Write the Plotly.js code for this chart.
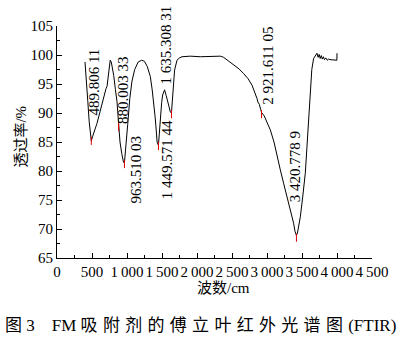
<!DOCTYPE html>
<html>
<head>
<meta charset="utf-8">
<script src="https://cdn.plot.ly/plotly-3.0.1.min.js"></script>
<style>html,body{margin:0;padding:0;background:#fff;}#chart{width:406px;height:346px;}</style>
</head>
<body>
<div id="chart"></div>
<script>
// Spectrum: wavenumber (cm^-1) and transmittance (%)
const wavenumber = [400,420,440,460,475,490,510,540,571,610,643,670,700,715,730,745,760,775,795,810,835,857,872,880,884,900,925,950,963,985,1010,1040,1071,1110,1160,1210,1250,1290,1333,1360,1381,1400,1414,1430,1449,1460,1476,1495,1509,1537,1560,1594,1619,1635,1650,1680,1714,1750,1786,1880,1904,2047,2200,2333,2380,2450,2523,2600,2666,2730,2786,2830,2857,2870,2890,2910,2922,2960,3000,3047,3100,3143,3190,3237,3290,3333,3360,3380,3400,3420,3435,3450,3476,3510,3547,3570,3594,3619,3640,3666,3690,3714,3730,3745,3760,3775,3790,3805,3820,3840,3860,3880,3900,3950,3998,4000];
const transmittance = [98.8,96,92,88.5,86,85.2,86,87,88.2,90,91.7,93,94.2,94.6,96,98,99.1,98.8,97.5,96.5,94,92,89.5,87.8,86.8,85,83,81.5,81.4,84,88,92.5,95.5,97.5,98.8,99.1,98.9,98,96.3,94,92,89.5,87.6,85,84.4,86.5,89.4,91.8,93.1,94,93,91.1,90.2,90,92.5,97.4,99.1,99.5,99.7,99.8,99.8,99.7,99.8,99.8,99.6,99,98.3,97.6,96.8,95.9,94.8,93.5,92.5,91.9,91.5,90.6,90.1,89.5,88.5,87.1,85,82.5,80.2,77.9,75.5,73.3,72,71,69.6,68.9,69.3,70.3,72.1,75.5,79.6,84,88.2,94.3,97.5,99.4,99.9,100.3,99.6,100.1,99.4,99.9,99.3,99.7,99.2,99.5,99.1,99.3,99.2,99.1,99.1,100.3];

// Marked peaks
const peakWn = [489.806, 880.003, 963.510, 1449.571, 1635.308, 2921.611, 3420.779];
const peakT = [84.5, 86.9, 80.5, 83.6, 89.1, 89.1, 67.8];
const peakLabels = ['489.806 11','880.003 33','963.510 03','1 449.571 44','1 635.308 31','2 921.611 05','3 420.778 9'];

const xTickVals = [0,500,1000,1500,2000,2500,3000,3500,4000,4500];
const xTickText = ['0','500','1\u2009000','1\u2009500','2\u2009000','2\u2009500','3\u2009000','3\u2009500','4\u2009000','4\u2009500'];

const serif = 'Liberation Serif, Times New Roman, serif';
const cjk = 'Liberation Serif, Noto Sans CJK SC, serif';

const traces = [{
  x: wavenumber, y: transmittance, type: 'scatter', mode: 'lines',
  line: {color: '#000', width: 1}, hoverinfo: 'skip'
}];
peakWn.forEach((w, i) => {
  traces.push({x: [w, w], y: [peakT[i], peakT[i] + 1.4], type: 'scatter', mode: 'lines',
    line: {color: '#e00000', width: 1}, hoverinfo: 'skip'});
});

// label placement (data coords of label centers)
const labelPos = [[533,95.3],[947,94.0],[1133,80.3],[1576,81.9],[1563,101.7],[3011,98.1],[3404,80.7]];
const annotations = peakLabels.map((t, i) => ({
  x: labelPos[i][0], y: labelPos[i][1], xref: 'x', yref: 'y', text: t, showarrow: false,
  textangle: -90, xanchor: 'center', yanchor: 'middle',
  font: {family: serif, size: 15, color: '#000'}
}));
// axis titles
annotations.push({
  x: 0.528, y: -0.129, xref: 'paper', yref: 'paper', showarrow: false,
  text: '波数/cm', xanchor: 'center', yanchor: 'middle',
  font: {family: cjk, size: 15, color: '#000'}
});
annotations.push({
  x: -0.113, y: 0.525, xref: 'paper', yref: 'paper', showarrow: false,
  text: '透过率/%', textangle: -90, xanchor: 'center', yanchor: 'middle',
  font: {family: cjk, size: 15, color: '#000'}
});
// caption
annotations.push({
  x: -0.1705, y: -0.289, xref: 'paper', yref: 'paper', showarrow: false,
  text: '图 3\u2002\u2002FM <span style="letter-spacing:5.3px">吸附剂的傅立叶红外光谱图</span>(FTIR)',
  xanchor: 'left', yanchor: 'middle',
  font: {family: cjk, size: 17, color: '#000'}
});

const layout = {
  width: 406, height: 346,
  margin: {l: 56.7, r: 34.3, t: 25.8, b: 88, pad: 0},
  paper_bgcolor: '#fff', plot_bgcolor: '#fff',
  showlegend: false,
  xaxis: {
    range: [0, 4500], tickvals: xTickVals, ticktext: xTickText, tickangle: 0,
    ticks: 'inside', ticklen: 5, tickcolor: '#000', tickwidth: 1,
    minor: {dtick: 250, ticks: 'inside', ticklen: 3, tickcolor: '#000'},
    showline: true, linecolor: '#000', linewidth: 1, mirror: false,
    showgrid: false, zeroline: false,
    tickfont: {family: serif, size: 15, color: '#000'}
  },
  yaxis: {
    range: [65, 105], dtick: 5, tick0: 65,
    ticks: 'inside', ticklen: 5, tickcolor: '#000', tickwidth: 1,
    minor: {dtick: 2.5, ticks: 'inside', ticklen: 3, tickcolor: '#000'},
    showline: true, linecolor: '#000', linewidth: 1, mirror: false,
    showgrid: false, zeroline: false,
    tickfont: {family: serif, size: 15, color: '#000'}
  },
  annotations: annotations
};

Plotly.newPlot('chart', traces, layout, {staticPlot: true, displayModeBar: false});
</script>
</body>
</html>
